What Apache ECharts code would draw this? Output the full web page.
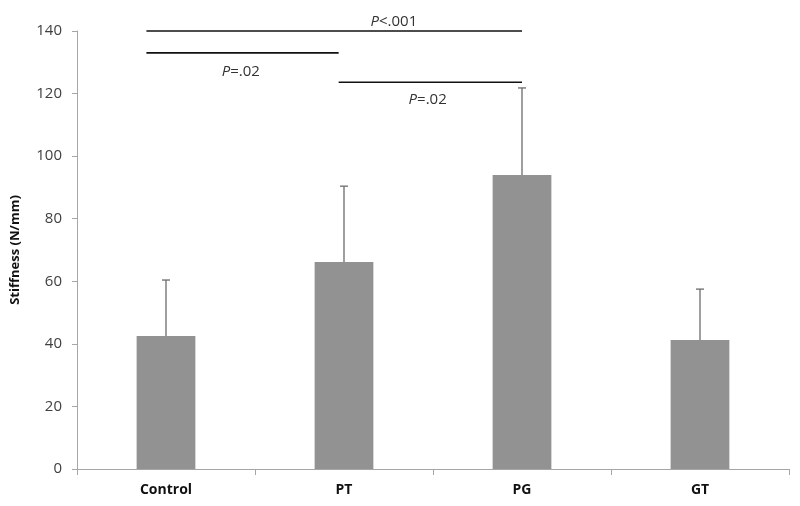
<!DOCTYPE html>
<html><head><meta charset="utf-8">
<script src="https://cdn.jsdelivr.net/npm/echarts@6/dist/echarts.min.js"></script>
<style>html,body{margin:0;padding:0;background:#fff}#c{width:800px;height:506px}</style>
</head><body><div id="c"></div>
<script>
const categories = ['Control', 'PT', 'PG', 'GT'];
const means = [42.5, 66.2, 94.0, 41.2];
const upperErr = [60.4, 90.4, 121.8, 57.5];
const yTicks = [0, 20, 40, 60, 80, 100, 120, 140];
// significance brackets: [xStart, xEnd, y] in category units / N/mm
const brackets = [[-0.11, 2.0, 140], [-0.11, 0.97, 133], [0.97, 2.0, 123.6]];
// labels: [x, y, text]
const pLabels = [[1.28, 142.9, '<.001'], [0.42, 126.9, '=.02'], [1.47, 117.9, '=.02']];

const chart = echarts.init(document.getElementById('c'));
const font = 'Open Sans';
chart.setOption({
  animation: false,
  backgroundColor: '#fff',
  grid: {left: 77, right: 11, top: 31, bottom: 37},
  xAxis: [{
    type: 'category', data: categories,
    axisLine: {lineStyle: {color: '#a6a6a6'}},
    axisTick: {show: true, length: 6, lineStyle: {color: '#a6a6a6'}},
    axisLabel: {color: '#111', fontWeight: 'bold', fontSize: 14, fontFamily: font, margin: 14}
  }, {
    type: 'value', min: -0.5, max: 3.5, show: false
  }],
  yAxis: {
    type: 'value', min: 0, max: 140, interval: 20,
    name: 'Stiffness (N/mm)', nameLocation: 'middle', nameGap: 55,
    nameTextStyle: {color: '#111', fontWeight: 'bold', fontSize: 13, fontFamily: font},
    axisLine: {show: true, onZero: false, lineStyle: {color: '#a6a6a6'}},
    axisTick: {show: true, length: 5, lineStyle: {color: '#a6a6a6'}},
    splitLine: {show: false},
    axisLabel: {color: '#404040', fontSize: 15, fontFamily: font, margin: 15,
      formatter: v => yTicks.includes(v) ? String(v) : ''}
  },
  series: [{
    type: 'bar', data: means, barWidth: '33%',
    itemStyle: {color: '#929292'}
  }, {
    type: 'custom', clip: false, z: 3,
    data: means.map((m, i) => [i, m, upperErr[i]]),
    renderItem: (params, api) => {
      const lo = api.coord([api.value(0), api.value(1)]);
      const hi = api.coord([api.value(0), api.value(2)]);
      const st = {stroke: '#6b6b6b', lineWidth: 1.3};
      return {type: 'group', children: [
        {type: 'line', shape: {x1: lo[0], y1: lo[1], x2: hi[0], y2: hi[1]}, style: st},
        {type: 'line', shape: {x1: hi[0] - 4, y1: hi[1], x2: hi[0] + 4, y2: hi[1]}, style: st}
      ]};
    }
  }, {
    type: 'custom', clip: false, xAxisIndex: 1, z: 4,
    data: brackets,
    renderItem: (params, api) => {
      const a = api.coord([api.value(0), api.value(2)]);
      const b = api.coord([api.value(1), api.value(2)]);
      return {type: 'line', shape: {x1: a[0], y1: a[1], x2: b[0], y2: b[1]},
        style: {stroke: '#111', lineWidth: 1.6}};
    }
  }, {
    type: 'custom', clip: false, xAxisIndex: 1, z: 4,
    data: pLabels,
    renderItem: (params, api) => {
      const p = api.coord([api.value(0), api.value(1)]);
      const t = pLabels[params.dataIndex][2];
      return {type: 'text', x: p[0], y: p[1], style: {
        text: '{i|P}{n|' + t + '}', align: 'center', verticalAlign: 'middle',
        rich: {
          i: {fontStyle: 'italic', fontSize: 15, fontFamily: font, fill: '#333'},
          n: {fontSize: 15, fontFamily: font, fill: '#333'}
        }
      }};
    }
  }]
});
</script></body></html>
